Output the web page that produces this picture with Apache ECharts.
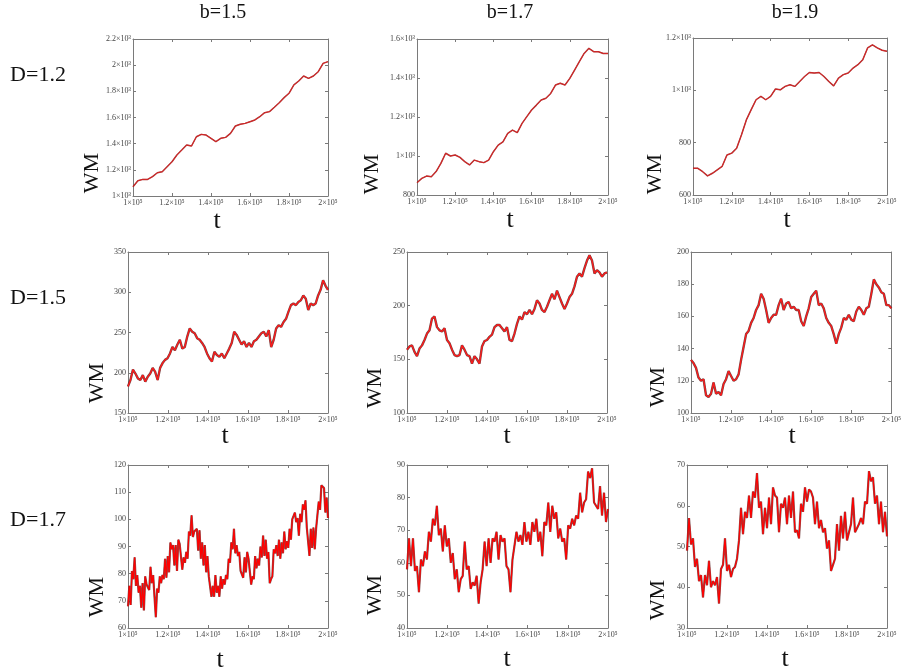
<!DOCTYPE html>
<html>
<head>
<meta charset="utf-8">
<script src="https://cdn.jsdelivr.net/npm/echarts@6/dist/echarts.min.js"></script>
<style>
html, body { margin: 0; padding: 0; background: #fff; }
#main { width: 904px; height: 672px; }
</style>
</head>
<body>
<div id="main"></div>
<script>
// t axis
var tMin = 100000, tMax = 200000, tStep = 20000;
var tLabels = ['1×10⁵', '1.2×10⁵', '1.4×10⁵', '1.6×10⁵', '1.8×10⁵', '2×10⁵'];

var colTitles = ['b=1.5', 'b=1.7', 'b=1.9'];
var rowTitles = ['D=1.2', 'D=1.5', 'D=1.7'];

// WM tick labels
var yLab_D12_b15 = ['1×10³', '1.2×10³', '1.4×10³', '1.6×10³', '1.8×10³', '2×10³', '2.2×10³'];
var yLab_D12_b17 = ['800', '1×10³', '1.2×10³', '1.4×10³', '1.6×10³'];
var yLab_D12_b19 = ['600', '800', '1×10³', '1.2×10³'];
var yLab_D15_b15 = ['150', '200', '250', '300', '350'];
var yLab_D15_b17 = ['100', '150', '200', '250'];
var yLab_D15_b19 = ['100', '120', '140', '160', '180', '200'];
var yLab_D17_b15 = ['60', '70', '80', '90', '100', '110', '120'];
var yLab_D17_b17 = ['40', '50', '60', '70', '80', '90'];
var yLab_D17_b19 = ['30', '40', '50', '60', '70'];

// WM values, evenly sampled over t
var wm_D12_b15 = [1071, 1117, 1127, 1127, 1148, 1178, 1186, 1224, 1262, 1313, 1351, 1390, 1382, 1453, 1471, 1466, 1441, 1415, 1441, 1448,
  1479, 1535, 1548, 1555, 1568, 1581, 1606, 1637, 1645, 1678, 1713, 1752, 1785, 1849, 1879, 1917, 1899, 1917, 1950, 2014, 2027];
var wm_D12_b17 = [863, 885, 897, 894, 920, 962, 1014, 1000, 1005, 993, 971, 954, 979, 971, 966, 979, 1022, 1056, 1073, 1116,
  1133, 1120, 1167, 1202, 1236, 1261, 1287, 1296, 1321, 1364, 1373, 1364, 1398, 1441, 1484, 1526, 1552, 1535, 1535, 1526, 1526];
var wm_D12_b19 = [702, 702, 689, 673, 683, 696, 709, 753, 760, 779, 830, 887, 926, 964, 977, 964, 977, 1005, 1002, 1015,
  1021, 1015, 1034, 1053, 1068, 1066, 1068, 1053, 1034, 1017, 1047, 1060, 1066, 1085, 1098, 1117, 1162, 1174, 1162, 1153, 1149];
var wm_D15_b15 = [183, 191, 204, 199, 193, 191, 197, 189, 195, 199, 206, 201, 191, 206, 212, 216, 218, 224, 232, 228,
  235, 241, 230, 232, 245, 255, 251, 249, 243, 241, 237, 232, 224, 218, 214, 226, 222, 220, 224, 218,
  224, 230, 237, 251, 247, 241, 235, 239, 232, 237, 232, 239, 241, 245, 249, 251, 245, 253, 232, 241,
  255, 259, 257, 263, 267, 276, 284, 286, 284, 288, 290, 296, 292, 278, 286, 284, 286, 296, 303, 315, 308, 303];
var wm_D15_b17 = [159, 162, 163, 157, 153, 160, 163, 168, 174, 177, 188, 190, 180, 177, 176, 179, 168, 165, 159, 154,
  153, 154, 163, 159, 154, 153, 146, 153, 150, 146, 162, 167, 168, 171, 173, 180, 182, 182, 179, 176,
  180, 168, 167, 174, 183, 190, 187, 194, 192, 196, 192, 197, 205, 202, 196, 194, 199, 205, 211, 206,
  214, 208, 202, 197, 202, 208, 211, 218, 227, 230, 227, 235, 242, 247, 242, 230, 233, 231, 227, 230, 231];
var wm_D15_b19 = [133, 131, 128, 122, 120, 121, 111, 110, 112, 119, 112, 113, 111, 118, 121, 126, 123, 120, 121, 124,
  133, 141, 149, 151, 156, 159, 164, 167, 174, 171, 164, 156, 159, 161, 161, 167, 171, 164, 168, 169,
  165, 166, 164, 164, 157, 154, 160, 165, 172, 174, 176, 167, 168, 165, 159, 156, 154, 149, 143, 149,
  153, 159, 158, 161, 158, 157, 163, 166, 164, 161, 165, 166, 174, 183, 180, 178, 175, 174, 167, 167, 165];
var wm_D17_b15 = [68, 75.5, 68.5, 81, 78, 86, 75.5, 79.5, 73, 75.5,
  67.5, 76.5, 66.5, 79, 76, 76.5, 74, 82.5, 76.5, 79.5,
  71.5, 64, 74.5, 73, 79, 76.5, 79.5, 78, 85.5, 78.5,
  86.5, 80.5, 91.5, 89, 90.5, 83, 90.5, 81, 92.5, 91,
  91.5, 81.5, 86, 84, 88, 85.5, 95.5, 94, 101.5, 93.5,
  95.5, 95, 96.5, 88.5, 96, 85.5, 91.5, 83, 90.5, 80.5,
  86.5, 79, 79.5, 71.5, 75.5, 71.5, 79.5, 73, 75.5, 71.5,
  79, 74.5, 78, 76, 79.5, 78, 85.5, 84, 91.5, 89,
  96.5, 87.5, 90.5, 86.5, 88, 81, 81.5, 78.5, 86, 80.5,
  88, 85.5, 86, 76, 79, 78, 86.5, 82, 85.5, 83,
  90, 86, 94, 86.5, 92.5, 85.5, 88, 76.5, 78, 79,
  89, 87.5, 90.5, 86.5, 92.5, 85.5, 91.5, 87.5, 95.5, 89,
  92, 89.5, 96.5, 92.5, 100, 100.5, 102.5, 99, 100.5, 94,
  102, 99, 105.5, 103.5, 107, 97, 97.5, 86.5, 96.5, 89.5,
  97, 89, 96.5, 97, 106.5, 103.5, 112.5, 112, 111.5, 102.5,
  108, 100.5];
var wm_D17_b17 = [58, 67.5, 59, 67.5, 57.5, 59, 51, 61, 59, 63.5,
  61, 69.5, 66.5, 73.5, 71.5, 77.5, 68.5, 70.5, 63.5, 71.5,
  65, 67.5, 60, 63, 55, 58, 51, 55, 56, 66.5,
  58, 59, 52, 54, 53, 56, 47.5, 54, 58, 66.5,
  59, 67.5, 60, 67.5, 66.5, 69.5, 61, 68.5, 66.5, 67.5,
  59, 58, 51, 61, 61, 69.5, 66.5, 68.5, 65.5, 72.5,
  66.5, 69.5, 65.5, 72.5, 69.5, 73.5, 66.5, 69.5, 62, 72.5,
  71.5, 78.5, 69.5, 77.5, 73.5, 75.5, 67.5, 70.5, 66.5, 67.5,
  61, 71.5, 70.5, 73.5, 71.5, 74.5, 73.5, 81.5, 75.5, 78.5,
  79.5, 88, 86, 89, 78.5, 78.5, 76.5, 83.5, 74.5, 81.5,
  72.5, 76.5];
var wm_D17_b19 = [49, 57, 50.5, 52, 45, 47, 41.5, 43, 37.5, 43,
  40.5, 46.5, 40, 41.5, 40.5, 42.5, 36, 44.5, 45.5, 52,
  44, 45.5, 42.5, 44.5, 45, 47, 51.5, 59.5, 53, 58.5,
  57, 62.5, 57, 63.5, 62, 68, 59.5, 61, 53, 59.5,
  54.5, 62, 55.5, 64.5, 62.5, 62, 53.5, 60.5, 59.5, 62,
  55.5, 62.5, 57, 63.5, 53.5, 54, 52, 60.5, 58.5, 64.5,
  61, 64, 63.5, 62, 55.5, 61, 54.5, 56.5, 53.5, 54.5,
  49.5, 51.5, 44, 45.5, 47, 55.5, 49, 57.5, 52, 58.5,
  51.5, 53.5, 55.5, 62, 53.5, 54.5, 55.5, 57, 55.5, 61,
  60.5, 68.5, 66, 67, 60.5, 62.5, 55.5, 61, 53.5, 58.5,
  52.5];

// layout of the 3x3 panels: box [left, top, width, height], WM label centre, t label centre
var panels = [
  { vals: wm_D12_b15, yMin: 1000, yMax: 2200, yStep: 200, yLab: yLab_D12_b15, box: [133, 39, 195, 157], wm: [92, 173], t: [217, 221], row: 0 },
  { vals: wm_D12_b17, yMin: 800, yMax: 1600, yStep: 200, yLab: yLab_D12_b17, box: [417, 39, 191, 156], wm: [372, 174], t: [510, 220], row: 0 },
  { vals: wm_D12_b19, yMin: 600, yMax: 1200, yStep: 200, yLab: yLab_D12_b19, box: [693, 38, 194, 157], wm: [655, 174], t: [787, 220], row: 0 },
  { vals: wm_D15_b15, yMin: 150, yMax: 350, yStep: 50, yLab: yLab_D15_b15, box: [128, 252, 200, 161], wm: [97, 383], t: [225, 436], row: 1 },
  { vals: wm_D15_b17, yMin: 100, yMax: 250, yStep: 50, yLab: yLab_D15_b17, box: [407, 252, 200, 161], wm: [375, 388], t: [507, 436], row: 1 },
  { vals: wm_D15_b19, yMin: 100, yMax: 200, yStep: 20, yLab: yLab_D15_b19, box: [691, 252, 201, 161], wm: [658, 387], t: [792, 436], row: 1 },
  { vals: wm_D17_b15, yMin: 60, yMax: 120, yStep: 10, yLab: yLab_D17_b15, box: [128, 465, 200, 163], wm: [97, 597], t: [220, 660], row: 2 },
  { vals: wm_D17_b17, yMin: 40, yMax: 90, yStep: 10, yLab: yLab_D17_b17, box: [407, 465, 201, 163], wm: [375, 595], t: [507, 659], row: 2 },
  { vals: wm_D17_b19, yMin: 30, yMax: 70, yStep: 10, yLab: yLab_D17_b19, box: [687, 465, 200, 163], wm: [658, 600], t: [785, 659], row: 2 }
];

// line styles per row: [underlay colour, underlay width, line colour, line width]
var rowStyle = [
  ['#9a1a1a', 1.5, '#e02020', 0.8],
  ['#5e2424', 2.4, '#ff1a1a', 1.3],
  ['#6e3434', 2.2, '#ff0000', 1.2]
];

var serif = "'Liberation Serif', 'DejaVu Serif', serif";
var axisGray = '#7a7a7a';

var grid = [], xAxis = [], yAxis = [], series = [], graphic = [];

panels.forEach(function (p, k) {
  grid.push({ left: p.box[0], top: p.box[1], width: p.box[2], height: p.box[3], show: false });

  var tickX = { show: true, inside: true, length: 3, lineStyle: { color: axisGray } };
  var lineX = { show: true, onZero: false, lineStyle: { color: axisGray, width: 1 } };

  xAxis.push({
    type: 'value', gridIndex: k, min: tMin, max: tMax, interval: tStep, position: 'bottom',
    axisLine: lineX, axisTick: tickX, splitLine: { show: false },
    axisLabel: {
      margin: 3, fontSize: 8, color: '#444', fontFamily: serif,
      formatter: function (v) { return tLabels[Math.round((v - tMin) / tStep)]; }
    }
  });
  xAxis.push({
    type: 'value', gridIndex: k, min: tMin, max: tMax, interval: tStep, position: 'top',
    axisLine: lineX, axisTick: tickX, splitLine: { show: false }, axisLabel: { show: false }
  });
  yAxis.push({
    type: 'value', gridIndex: k, min: p.yMin, max: p.yMax, interval: p.yStep, position: 'left',
    axisLine: lineX, axisTick: tickX, splitLine: { show: false },
    axisLabel: {
      margin: 2, fontSize: 8, color: '#444', fontFamily: serif,
      formatter: function (v) { return p.yLab[Math.round((v - p.yMin) / p.yStep)]; }
    }
  });
  yAxis.push({
    type: 'value', gridIndex: k, min: p.yMin, max: p.yMax, interval: p.yStep, position: 'right',
    axisLine: lineX, axisTick: tickX, splitLine: { show: false }, axisLabel: { show: false }
  });

  var n = p.vals.length;
  var pts = p.vals.map(function (v, i) { return [tMin + i * (tMax - tMin) / (n - 1), v]; });
  var st = rowStyle[p.row];
  series.push({
    type: 'line', xAxisIndex: 2 * k, yAxisIndex: 2 * k, data: pts, symbol: 'none', silent: true,
    lineStyle: { color: st[0], width: st[1], opacity: 0.85 }, z: 2
  });
  series.push({
    type: 'line', xAxisIndex: 2 * k, yAxisIndex: 2 * k, data: pts, symbol: 'none', silent: true,
    lineStyle: { color: st[2], width: st[3] }, z: 3
  });

  graphic.push({
    type: 'text', x: p.wm[0], y: p.wm[1], rotation: Math.PI / 2,
    style: { text: 'WM', font: '22px ' + serif, fill: '#111', align: 'center', verticalAlign: 'middle' }
  });
  graphic.push({
    type: 'text', x: p.t[0], y: p.t[1],
    style: { text: 't', font: '26px ' + serif, fill: '#111', align: 'center', verticalAlign: 'middle' }
  });
});

// column and row headings
var colX = [223, 510, 795];
colTitles.forEach(function (s, i) {
  graphic.push({
    type: 'text', x: colX[i], y: 13,
    style: { text: s, font: '20px ' + serif, fill: '#111', align: 'center', verticalAlign: 'middle' }
  });
});
var rowY = [75, 298, 520];
rowTitles.forEach(function (s, i) {
  graphic.push({
    type: 'text', x: 38, y: rowY[i],
    style: { text: s, font: '22px ' + serif, fill: '#111', align: 'center', verticalAlign: 'middle' }
  });
});

var chart = echarts.init(document.getElementById('main'));
chart.setOption({
  backgroundColor: '#fff',
  animation: false,
  grid: grid,
  xAxis: xAxis,
  yAxis: yAxis,
  series: series,
  graphic: graphic
});
</script>
</body>
</html>
